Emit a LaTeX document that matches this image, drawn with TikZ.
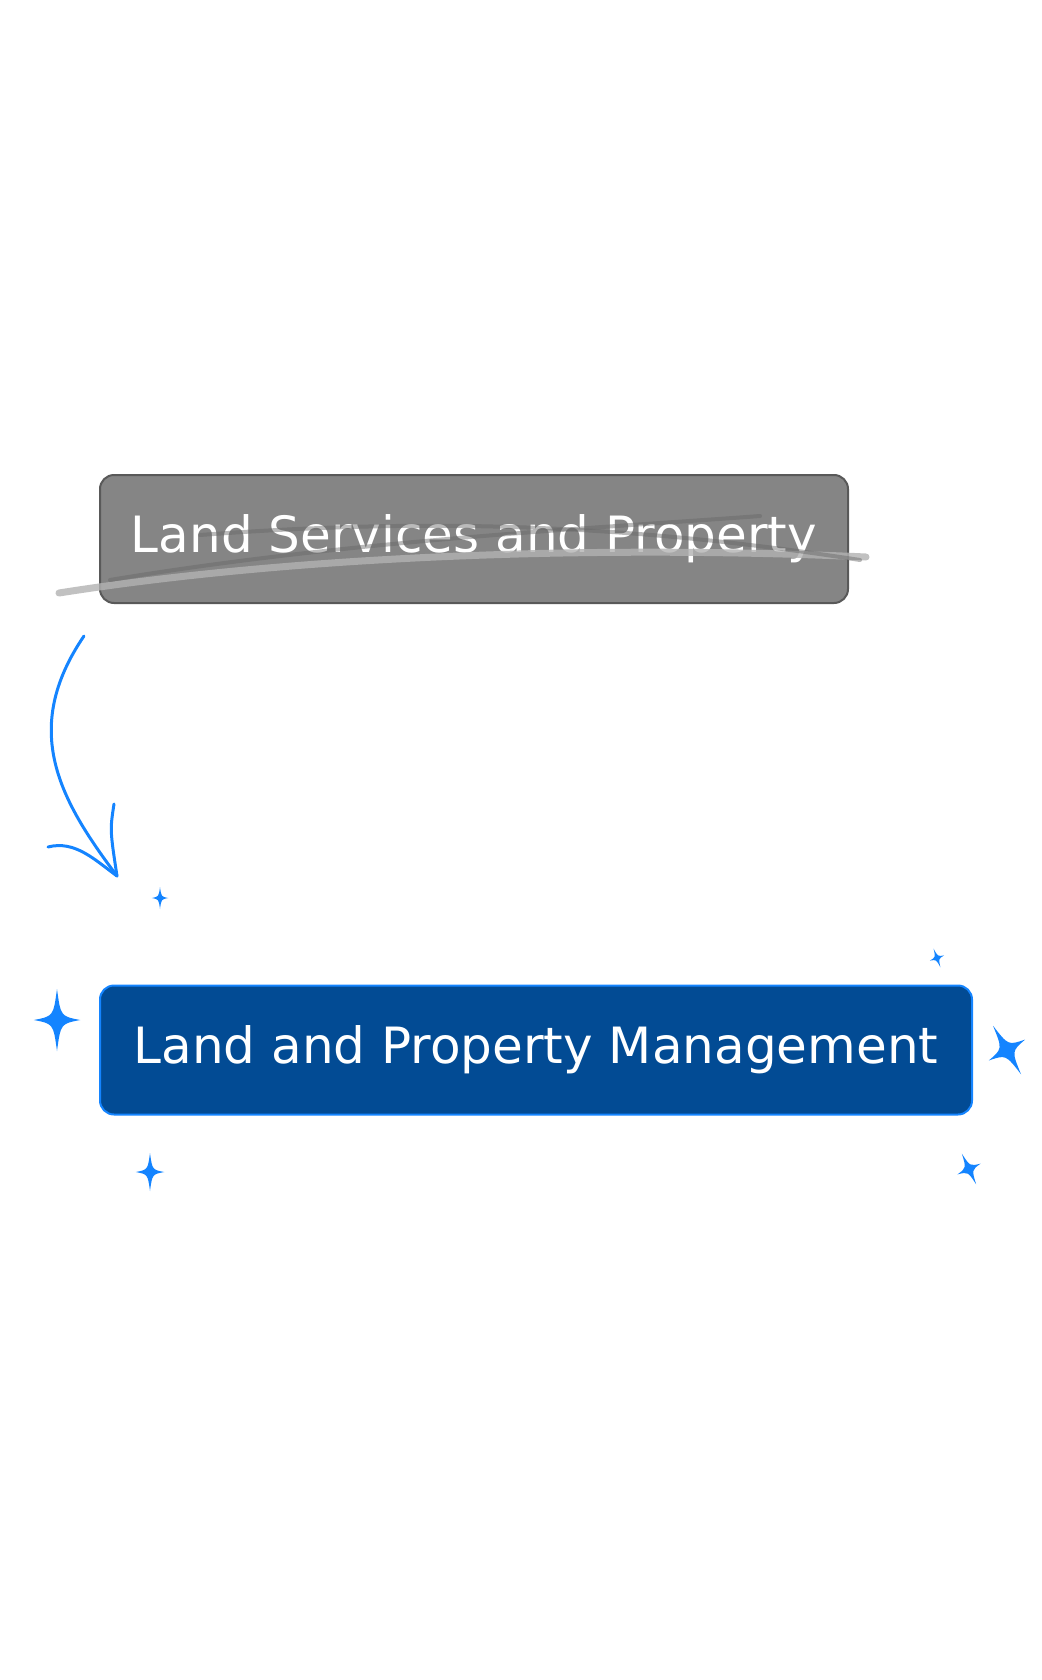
\documentclass[tikz,border=0pt]{standalone}
\usepackage{fontspec}
\setmainfont{DejaVu Sans}
\begin{document}
\begin{tikzpicture}[x=1pt,y=-1pt,
  boxold/.style={draw=black!65,line width=2pt,fill=black!48,rounded corners=14pt,minimum width=748pt,minimum height=128pt,text=white,font=\fontsize{50}{60}\selectfont,inner sep=0pt},
  boxnew/.style={line width=2pt,rounded corners=14pt,minimum width=872pt,minimum height=129pt,text=white,font=\fontsize{50}{60}\selectfont,inner sep=0pt}]
\definecolor{sblue}{RGB}{20,132,255}
\definecolor{dblue}{RGB}{2,75,148}
\useasboundingbox (0,0) rectangle (1041,1680);
\node[boxold] (old) at (474,539) {Land Services and Property};
\draw[black!30,line width=7pt,line cap=round,opacity=0.8] (59,593) .. controls (300,555) and (600,545) .. (866,557);
\draw[black!60,line width=4pt,line cap=round,opacity=0.45] (110,580) .. controls (350,540) and (600,528) .. (760,516);
\draw[black!60,line width=4pt,line cap=round,opacity=0.45] (200,535) .. controls (400,520) and (600,520) .. (860,560);
\node[boxnew,fill=dblue,draw=sblue] (new) at (536,1050) {Land and Property Management};
\coordinate (a0) at (84,636);
\coordinate (a1) at (117,876);
\coordinate (h1) at (114,804);
\coordinate (h2) at (48,847);
\draw[sblue,line width=3pt,line cap=round] (a0) .. controls (20,730) and (60,800) .. (a1);
\draw[sblue,line width=3pt,line cap=round] (h1) .. controls (110,830) .. (a1);
\draw[sblue,line width=3pt,line cap=round] (h2) .. controls (75,840) and (95,860) .. (a1);
\newcommand{\sparkle}[4]{\fill[sblue,shift={(#1,#2)},rotate=#4] (0,-#3) .. controls (0.12*#3,-0.12*#3) .. (#3*0.75,0) .. controls (0.12*#3,0.12*#3) .. (0,#3) .. controls (-0.12*#3,0.12*#3) .. (-#3*0.75,0) .. controls (-0.12*#3,-0.12*#3) .. cycle;}
\sparkle{160}{898}{11}{0}
\sparkle{57}{1020}{31}{0}
\sparkle{937}{958}{10}{20}
\sparkle{1007}{1050}{28}{30}
\sparkle{150}{1172}{19}{0}
\sparkle{969}{1169}{17}{25}
\end{tikzpicture}
\end{document}
